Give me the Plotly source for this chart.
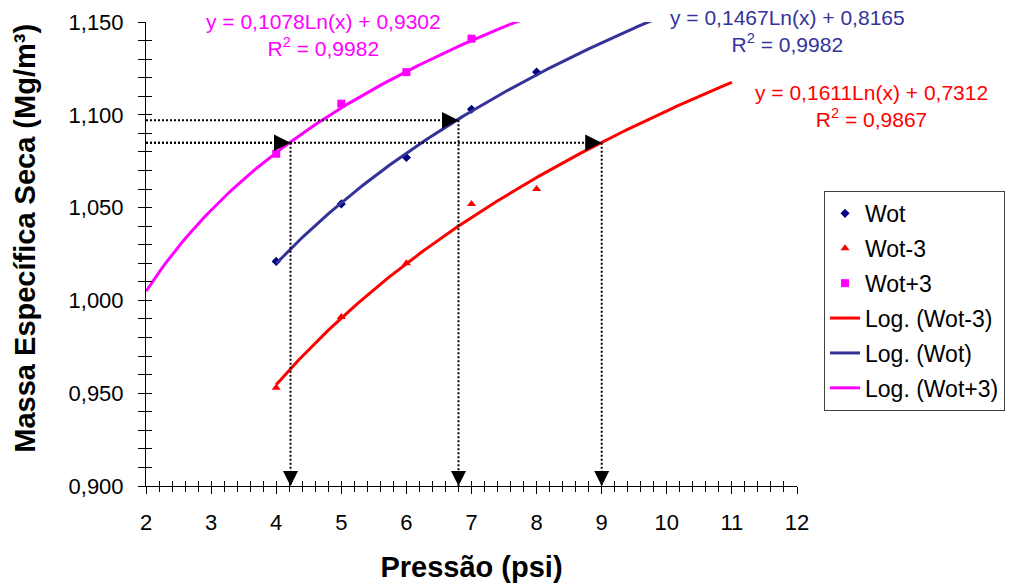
import numpy as np
import plotly.graph_objects as go

# ---------------- data ----------------
pressure = [4, 5, 6, 7, 8]
wot = [1.021, 1.052, 1.077, 1.103, 1.123]
wot_minus3 = [0.953, 0.991, 1.020, 1.052, 1.060]
pressure_plus3 = [4, 5, 6, 7]
wot_plus3 = [1.079, 1.106, 1.123, 1.141]

# logarithmic trendlines as printed on the chart: y = a*Ln(x) + b
fit_names = ["Wot-3", "Wot", "Wot+3"]
fit_a = [0.1611, 0.1467, 0.1078]
fit_b = [0.7312, 0.8165, 0.9302]
fit_r2 = [0.9867, 0.9982, 0.9982]
fit_x_start = [4, 4, 2]
fit_x_end = [11, 12, 12]

# reading lines (target density -> pressure), one per curve
read_x = [9.00, 6.80, 4.22]
read_y = [1.085, 1.097, 1.085]

x_ticks = list(range(2, 13))
y_ticks = [0.900, 0.950, 1.000, 1.050, 1.100, 1.150]
x_range = [2, 12]
y_range = [0.900, 1.150]

x_title = "Pressão (psi)"
y_title = "Massa Específica Seca (Mg/m³)"

# ---------------- styles ----------------
FONT = "Liberation Sans, Arial, sans-serif"
fit_colors = ["#FF0000", "#333399", "#FF00FF"]
# equation label centres (paper fractions)
label_pos = [(1.114, 0.818), (0.985, 0.980), (0.272, 0.972)]


def fmt(v):
    return f"{v:.4f}".replace(".", ",")


fig = go.Figure()

fig.add_trace(go.Scatter(x=pressure, y=wot, mode="markers", name="Wot",
                         legendgroup="g1",
                         marker=dict(symbol="diamond", size=7, color="#000080")))
fig.add_trace(go.Scatter(x=pressure, y=wot_minus3, mode="markers", name="Wot-3",
                         legendgroup="g2",
                         marker=dict(symbol="triangle-up", size=8, color="#FF0000")))
fig.add_trace(go.Scatter(x=pressure_plus3, y=wot_plus3, mode="markers", name="Wot+3",
                         legendgroup="g3",
                         marker=dict(symbol="square", size=8, color="#FF00FF")))

for i, nm in enumerate(fit_names):
    xs = np.linspace(fit_x_start[i], fit_x_end[i], 200)
    ys = fit_a[i] * np.log(xs) + fit_b[i]
    fig.add_trace(go.Scatter(x=xs, y=ys, mode="lines", name=f"Log. ({nm})",
                             legendgroup=f"g{4 + i}",
                             line=dict(color=fit_colors[i], width=3)))

# dummy trace so that the overlay axes (inner half of the crossing ticks) exist
fig.add_trace(go.Scatter(x=[None], y=[None], xaxis="x2", yaxis="y2",
                         showlegend=False, hoverinfo="skip"))

# dotted reading lines
for xv, yv in zip(read_x, read_y):
    fig.add_shape(type="line", xref="x", yref="y", x0=x_range[0], x1=xv, y0=yv, y1=yv,
                  line=dict(color="black", width=2, dash="2px,2px"), layer="above")
    fig.add_shape(type="line", xref="x", yref="y", x0=xv, x1=xv, y0=yv, y1=y_range[0],
                  line=dict(color="black", width=2, dash="2px,2px"), layer="above")

annotations = []
for xv, yv in zip(read_x, read_y):
    annotations.append(dict(x=xv, y=yv, xref="x", yref="y", ax=-16, ay=0, text="",
                            showarrow=True, arrowhead=2, arrowsize=3.3, arrowwidth=1,
                            arrowcolor="black"))
    annotations.append(dict(x=xv, y=y_range[0], xref="x", yref="y", ax=0, ay=-16, text="",
                            showarrow=True, arrowhead=2, arrowsize=3.0, arrowwidth=1,
                            arrowcolor="black"))

for i in range(3):
    px, py = label_pos[i]
    txt = (f"y = {fmt(fit_a[i])}Ln(x) + {fmt(fit_b[i])}<br>"
           f"R<sup>2</sup> = {fmt(fit_r2[i])}")
    annotations.append(dict(x=px, y=py, xref="paper", yref="paper", text=txt,
                            showarrow=False, xanchor="center", yanchor="middle",
                            align="center",
                            font=dict(family=FONT, size=21, color=fit_colors[i])))

# y-axis title (placed as a rotated annotation to match the reference position)
annotations.append(dict(x=-0.186, y=0.535, xref="paper", yref="paper",
                        text=f"<b>{y_title}</b>", textangle=-90, showarrow=False,
                        xanchor="center", yanchor="middle",
                        font=dict(family=FONT, size=29, color="black")))

axis_common = dict(showgrid=False, zeroline=False)

fig.update_layout(
    width=1014, height=588,
    margin=dict(l=146, r=217, t=22, b=102, autoexpand=False),
    paper_bgcolor="white", plot_bgcolor="white",
    separators=",.",
    font=dict(family=FONT, color="black", size=22),
    annotations=annotations,
    legend=dict(x=1.0415, y=0.636, xanchor="left", yanchor="top",
                bordercolor="#404040", borderwidth=1, bgcolor="white",
                font=dict(family=FONT, size=23, color="black"),
                tracegroupgap=2, traceorder="grouped"),
    xaxis=dict(range=x_range, tickvals=x_ticks, ticks="outside", ticklen=7,
               tickcolor="black", tickwidth=1,
               minor=dict(dtick=0.2, ticks="outside", ticklen=5, tickcolor="black"),
               showline=True, linecolor="black", linewidth=1,
               tickfont=dict(size=22), ticklabelstandoff=10,
               title=dict(text=f"<b>{x_title}</b>", font=dict(size=29), standoff=22),
               **axis_common),
    yaxis=dict(range=y_range, tickvals=y_ticks, tickformat=".3f", ticks="outside",
               ticklen=7, tickcolor="black", tickwidth=1,
               minor=dict(dtick=0.01, ticks="outside", ticklen=7, tickcolor="black"),
               showline=True, linecolor="black", linewidth=1,
               tickfont=dict(size=22), ticklabelstandoff=10,
               **axis_common),
    xaxis2=dict(range=x_range, overlaying="x", anchor="y", side="bottom",
                tickvals=x_ticks, ticks="inside", ticklen=5, tickcolor="black",
                minor=dict(dtick=0.2, ticks="inside", ticklen=5, tickcolor="black"),
                showticklabels=False, showline=False, **axis_common),
    yaxis2=dict(range=y_range, overlaying="y", anchor="x", side="left",
                tickvals=y_ticks, ticks="inside", ticklen=6, tickcolor="black",
                minor=dict(dtick=0.01, ticks="inside", ticklen=6, tickcolor="black"),
                showticklabels=False, showline=False, **axis_common),
)

fig.write_html("out.html", config={"displayModeBar": False},
               post_script="document.body.style.margin='0px';")
